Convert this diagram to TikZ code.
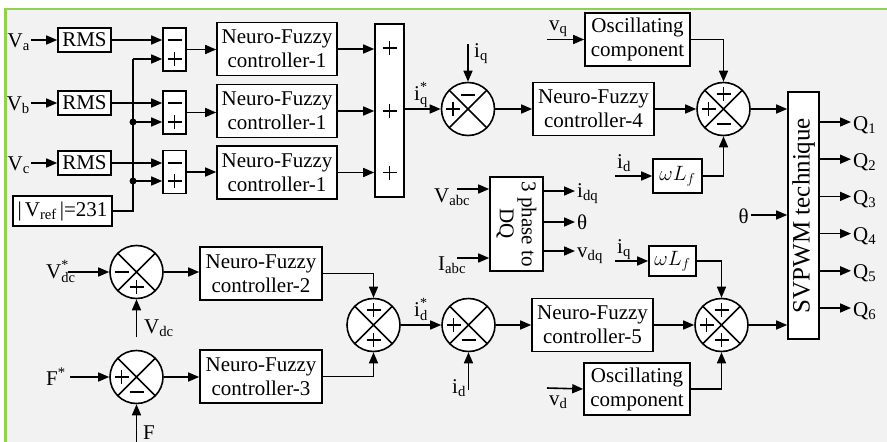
\documentclass[tikz,border=0pt]{standalone}
\usepackage{fontspec}
\setmainfont{Liberation Serif}
\usetikzlibrary{arrows.meta,calc}
\newcommand\myfs{\fontsize{21}{24}\selectfont}
\newcommand\svpfs{\fontsize{25}{28}\selectfont}
\newcommand\supsubx[2]{\makebox[0pt][l]{\raisebox{9pt}{\fontsize{14}{14}\selectfont #1}}\raisebox{-4pt}{\fontsize{14.5}{14.5}\selectfont #2}}
\definecolor{bggray}{HTML}{F2F2F2}
\definecolor{framegreen}{HTML}{92D050}
\tikzset{
  ln/.style={line width=1.6pt},
  arr/.style={line width=1.6pt,-{Triangle[length=11pt,width=9pt]}},
  blk/.style={draw,line width=1.6pt,fill=white,align=center,inner sep=0pt},
  sumc/.style={circle,draw,line width=1.6pt,fill=white,minimum size=53pt,inner sep=0pt,
    path picture={\draw[line width=1.6pt] (path picture bounding box.north west)--(path picture bounding box.south east) (path picture bounding box.north east)--(path picture bounding box.south west);}},
  lbl/.style={inner sep=1pt},
  pls/.pic={\draw[line width=1.5pt] (-7,0)--(7,0) (0,-7)--(0,7);},
  mns/.pic={\draw[line width=1.5pt] (-7,0)--(7,0);},
}
\begin{document}
\begin{tikzpicture}[x=1pt,y=-1pt,font=\myfs]
\useasboundingbox (0,0) rectangle (887,442);
\fill[white] (0,0) rectangle (887,442);
\fill[bggray] (5.5,9) rectangle (887,442);
\draw[framegreen,line width=2.5pt] (5.5,442) -- (5.5,9) -- (887,9);

% ---------- top-left: RMS rows ----------
\node[blk,minimum width=53pt,minimum height=24pt] (rms1) at (84.5,40) {RMS};
\node[blk,minimum width=53pt,minimum height=24pt] (rms2) at (84.5,103) {RMS};
\node[blk,minimum width=53pt,minimum height=24pt] (rms3) at (84.5,163) {RMS};
\node[lbl,anchor=base east] (va) at (31,47) {V\textsubscript{a}};
\node[lbl,anchor=base east] (vb) at (31,110) {V\textsubscript{b}};
\node[lbl,anchor=base east] (vc) at (31,170) {V\textsubscript{c}};
\draw[arr] (rms1.west -| va.east) -- (rms1.west);
\draw[arr] (rms2.west -| vb.east) -- (rms2.west);
\draw[arr] (rms3.west -| vc.east) -- (rms3.west);
\node[blk,minimum width=99pt,minimum height=30pt] (vref) at (62.5,211) {|\hspace{3pt}V\textsubscript{ref}\hspace{3pt}|=231};

\node[blk,minimum width=23pt,minimum height=43pt] (s1) at (174.5,49.5) {};
\node[blk,minimum width=23pt,minimum height=43pt] (s2) at (174.5,112.5) {};
\node[blk,minimum width=23pt,minimum height=43pt] (s3) at (174.5,172) {};
\pic at (174.5,40) {mns}; \pic at (174.5,59) {pls};
\pic at (174.5,103) {mns}; \pic at (174.5,122) {pls};
\pic at (174.5,163) {mns}; \pic at (174.5,181) {pls};
\draw[arr] (rms1.east) -- (rms1.east -| s1.west);
\draw[arr] (rms2.east) -- (rms2.east -| s2.west);
\draw[arr] (rms3.east) -- (rms3.east -| s3.west);

\coordinate (bt) at (133,59);
\coordinate (j2) at (133,122);
\coordinate (j3) at (133,181);
\draw[ln] (vref.east) -| (bt);
\draw[arr] (bt) -- (bt -| s1.west);
\draw[arr] (j2) -- (j2 -| s2.west);
\draw[arr] (j3) -- (j3 -| s3.west);
\fill (j2) circle[radius=3.5pt];
\fill (j3) circle[radius=3.5pt];

\node[blk,minimum width=120pt,minimum height=53pt] (nf1) at (277,49) {Neuro-Fuzzy\\controller-1};
\node[blk,minimum width=120pt,minimum height=53pt] (nf2) at (277,111) {Neuro-Fuzzy\\controller-1};
\node[blk,minimum width=120pt,minimum height=53pt] (nf3) at (277,172.5) {Neuro-Fuzzy\\controller-1};
\draw[arr] (s1.east) -- (s1.east -| nf1.west);
\draw[arr] (s2.east) -- (s2.east -| nf2.west);
\draw[arr] (s3.east) -- (s3.east -| nf3.west);

\node[blk,minimum width=29pt,minimum height=173pt] (big) at (389.5,110.5) {};
\pic at (389.5,48) {pls}; \pic at (389.5,111) {pls}; \pic at (389.5,172.5) {pls};
\draw[arr] (nf1.east) -- (nf1.east -| big.west);
\draw[arr] (nf2.east) -- (nf2.east -| big.west);
\draw[arr] (nf3.east) -- (nf3.east -| big.west);

% ---------- top chain ----------
\node[sumc] (c1) at (468,109) {};
\draw[arr] (big.east |- c1) -- (c1.west);
\node[lbl,anchor=base west] (iqs) at (413,100) {i\supsubx{*}{q}};
\coordinate (iqin) at (468,44);
\draw[arr] (iqin) -- (c1.north);
\node[lbl,anchor=base west] (iq1) at (473,57) {i\textsubscript{q}};
\pic at ($(c1)+(-15,0)$) {pls}; \pic at ($(c1)+(0,-14)$) {mns};

\node[blk,minimum width=121pt,minimum height=53pt] (nf4) at (593.5,109) {Neuro-Fuzzy\\controller-4};
\draw[arr] (c1.east) -- (nf4.west);
\node[sumc] (c2) at (723.5,109) {};
\draw[arr] (nf4.east) -- (c2.west);
\node[blk,minimum width=105pt,minimum height=53pt] (osc1) at (637.5,39.5) {Oscillating\\component};
\coordinate (vqin) at (547,39.5);
\draw[arr] (vqin) -- (osc1.west);
\node[lbl,anchor=base west] (vq) at (548,30) {v\textsubscript{q}};
\draw[arr] (osc1.east) -| (c2.north);
\node[blk,minimum width=49pt,minimum height=34pt] (wl1) at (677.5,176) {$\omega L_f$};
\coordinate (idin1) at (615,176);
\draw[arr] (idin1) -- (wl1.west);
\node[lbl,anchor=base west] (id1) at (616,168) {i\textsubscript{d}};
\draw[arr] (wl1.east) -| (c2.south);
\pic at ($(c2)+(0,-15)$) {pls}; \pic at ($(c2)+(-15,0)$) {pls}; \pic at ($(c2)+(0,15)$) {mns};

% ---------- SVPWM ----------
\node[blk,minimum width=31pt,minimum height=247pt] (svp) at (803.5,215.5) {};
\node[rotate=90,font=\svpfs,inner sep=0pt] (svpt) at (svp) {SVPWM technique};
\draw[arr] (c2.east) -- (c2.east -| svp.west);
\coordinate (thin) at (751,215);
\node[lbl,anchor=base east] (th) at (750,223) {θ};
\draw[arr] (thin) -- (thin -| svp.west);
\foreach \k/\yy in {1/122,2/159.2,3/196.4,4/233.6,5/270.8,6/308} {
  \coordinate (q\k) at (851,\yy);
  \draw[arr] (svp.east |- q\k) -- (q\k);
  \node[lbl,anchor=base west] (ql\k) at (852,\yy+8) {Q\textsubscript{\k}};
}

% ---------- 3 phase to DQ ----------
\node[blk,minimum width=53pt,minimum height=94pt] (tp) at (516.5,224) {};
\node[rotate=-90,align=center,font=\fontsize{21}{22}\selectfont,inner sep=0pt] (tpt) at (tp) {3 phase to\\DQ};
\coordinate (vabcin) at (457,189);
\draw[arr] (vabcin) -- (vabcin -| tp.west);
\node[lbl,anchor=base west] (vabc) at (433,202) {V\textsubscript{abc}};
\coordinate (iabcin) at (457,258);
\draw[arr] (iabcin) -- (iabcin -| tp.west);
\node[lbl,anchor=base west] (iabc) at (437,270) {I\textsubscript{abc}};
\coordinate (o1) at (575,191);
\coordinate (o2) at (575,222);
\coordinate (o3) at (575,251);
\draw[arr] (tp.east |- o1) -- (o1);
\draw[arr] (tp.east |- o2) -- (o2);
\draw[arr] (tp.east |- o3) -- (o3);
\node[lbl,anchor=base west] (idq) at (576,197) {i\textsubscript{dq}};
\node[lbl,anchor=base west] (tho) at (576,229) {θ};
\node[lbl,anchor=base west] (vdq) at (576,257) {v\textsubscript{dq}};

% ---------- bottom ----------
\node[sumc] (c6) at (136.5,272) {};
\coordinate (vdcsin) at (68,272);
\draw[arr] (vdcsin) -- (c6.west);
\node[lbl,anchor=base west] (vdcs) at (45,278) {V\supsubx{*}{dc}};
\coordinate (vdcin) at (136.5,337);
\draw[arr] (vdcin) -- (c6.south);
\node[lbl,anchor=base west] (vdc) at (143,333) {V\textsubscript{dc}};
\pic at ($(c6)+(-15,0)$) {mns}; \pic at ($(c6)+(0,15)$) {pls};
\node[blk,minimum width=122pt,minimum height=53pt] (nfc2) at (261,273.5) {Neuro-Fuzzy\\controller-2};
\draw[arr] (c6.east) -- (c6.east -| nfc2.west);

\node[sumc] (c7) at (136.5,377) {};
\coordinate (fsin) at (70,377);
\draw[arr] (fsin) -- (c7.west);
\node[lbl,anchor=base west] (fs) at (45,385) {F\textsuperscript{*}};
\coordinate (fin) at (136.5,442);
\draw[arr] (fin) -- (c7.south);
\node[lbl,anchor=base west] (fl) at (142,439) {F};
\pic at ($(c7)+(-15,0)$) {pls}; \pic at ($(c7)+(0,15)$) {mns};
\node[blk,minimum width=122pt,minimum height=53pt] (nfc3) at (261,376.5) {Neuro-Fuzzy\\controller-3};
\draw[arr] (c7.east) -- (c7.east -| nfc3.west);

\node[sumc] (c4) at (373.5,325) {};
\draw[arr] (nfc2.east) -| (c4.north);
\draw[arr] (nfc3.east) -| (c4.south);
\pic at ($(c4)+(0,-15)$) {pls}; \pic at ($(c4)+(0,15)$) {pls};

\node[sumc] (c5) at (468.5,325) {};
\draw[arr] (c4.east) -- (c5.west);
\node[lbl,anchor=base west] (ids) at (413,316) {i\supsubx{*}{d}};
\coordinate (idin2) at (468.5,390);
\draw[arr] (idin2) -- (c5.south);
\node[lbl,anchor=base west] (id2) at (451,393) {i\textsubscript{d}};
\pic at ($(c5)+(-15,0)$) {pls}; \pic at ($(c5)+(0,15)$) {mns};

\node[blk,minimum width=121pt,minimum height=53pt] (nf5) at (592.5,325) {Neuro-Fuzzy\\controller-5};
\draw[arr] (c5.east) -- (nf5.west);
\node[sumc] (c3) at (721.5,325) {};
\draw[arr] (nf5.east) -- (c3.west);
\node[blk,minimum width=47pt,minimum height=30pt] (wl2) at (672.5,261) {$\omega L_f$};
\coordinate (iqin2) at (615,261);
\draw[arr] (iqin2) -- (wl2.west);
\node[lbl,anchor=base west] (iq2) at (616,253) {i\textsubscript{q}};
\draw[arr] (wl2.east) -| (c3.north);
\node[blk,minimum width=106pt,minimum height=52pt] (osc2) at (637,389) {Oscillating\\component};
\coordinate (vdin) at (547,388);
\draw[arr] (vdin) -- (osc2.west);
\node[lbl,anchor=base west] (vd) at (548,405) {v\textsubscript{d}};
\draw[arr] (osc2.east) -| (c3.south);
\pic at ($(c3)+(0,-15)$) {pls}; \pic at ($(c3)+(-15,0)$) {pls}; \pic at ($(c3)+(0,15)$) {pls};
\draw[arr] (c3.east) -- (c3.east -| svp.west);
\end{tikzpicture}
\end{document}
